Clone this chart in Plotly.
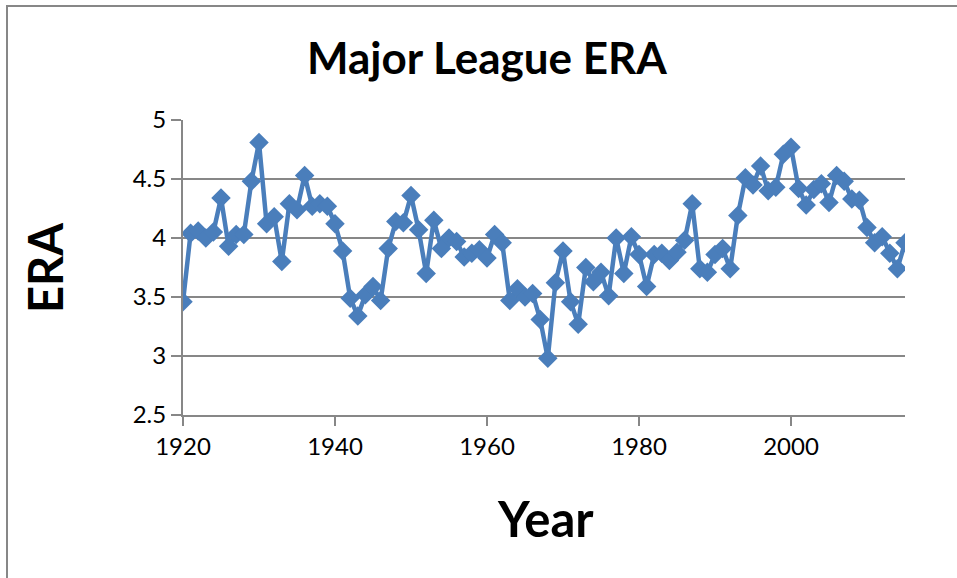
import plotly.graph_objects as go

years = list(range(1920, 2016))
era = [3.46, 4.04, 4.06, 4.00, 4.05, 4.34, 3.93, 4.03, 4.03, 4.48,
       4.81, 4.12, 4.18, 3.80, 4.29, 4.24, 4.53, 4.27, 4.29, 4.27,
       4.12, 3.89, 3.49, 3.34, 3.52, 3.59, 3.47, 3.91, 4.14, 4.13,
       4.36, 4.07, 3.70, 4.15, 3.91, 4.00, 3.97, 3.84, 3.87, 3.90,
       3.83, 4.03, 3.96, 3.47, 3.57, 3.50, 3.53, 3.31, 2.98, 3.62,
       3.89, 3.46, 3.27, 3.75, 3.63, 3.71, 3.51, 4.00, 3.70, 4.01,
       3.86, 3.59, 3.86, 3.87, 3.81, 3.88, 3.98, 4.29, 3.74, 3.71,
       3.86, 3.91, 3.74, 4.19, 4.51, 4.45, 4.61, 4.40, 4.43, 4.71,
       4.77, 4.42, 4.28, 4.41, 4.46, 4.30, 4.53, 4.48, 4.33, 4.32,
       4.09, 3.96, 4.01, 3.87, 3.74, 3.96]

x_ticks = [1920, 1940, 1960, 1980, 2000]
y_ticks = [2.5, 3, 3.5, 4, 4.5, 5]
y_tick_text = ["2.5", "3", "3.5", "4", "4.5", "5"]

blue = "#4A7EBB"
grid = "#878787"
font = "Lato"

fig = go.Figure()
fig.add_trace(go.Scatter(
    x=years, y=era, mode="lines+markers",
    line=dict(color=blue, width=4.5),
    marker=dict(symbol="diamond", size=15, color=blue),
    showlegend=False, hoverinfo="x+y"))

L, R, T, B = 183, 905, 120, 415
W, H = 957, 578
pw, ph = R - L, B - T

def px(x):
    return (x - L) / pw

def py(y):
    return (B - y) / ph

fig.update_layout(
    width=W, height=H,
    margin=dict(l=L, r=W - R, t=T, b=H - B, pad=0),
    paper_bgcolor="white", plot_bgcolor="white",
    font=dict(family=font, color="black"),
    xaxis=dict(range=[1920, 2015], tickvals=x_ticks, showgrid=False,
               zeroline=False, showline=True, linecolor=grid, linewidth=2,
               ticks="outside", ticklen=9, tickwidth=2, tickcolor=grid,
               tickfont=dict(size=24, family=font, color="black")),
    yaxis=dict(range=[2.5, 5], tickvals=y_ticks, ticktext=y_tick_text,
               showgrid=True, gridcolor=grid, gridwidth=2,
               zeroline=False, showline=True, linecolor=grid, linewidth=2,
               ticks="outside", ticklen=10, tickwidth=2, tickcolor=grid,
               tickfont=dict(size=24, family=font, color="black")),
    annotations=[
        dict(text="<b>Major League ERA</b>", x=px(487), y=py(57),
             xref="paper", yref="paper", showarrow=False,
             xanchor="center", yanchor="middle",
             font=dict(size=44, family=font, color="black")),
        dict(text="<b>Year</b>", x=px(545), y=py(518),
             xref="paper", yref="paper", showarrow=False,
             xanchor="center", yanchor="middle",
             font=dict(size=49, family=font, color="black")),
        dict(text="<b>ERA</b>", x=px(45), y=py(268), textangle=-90,
             xref="paper", yref="paper", showarrow=False,
             xanchor="center", yanchor="middle",
             font=dict(size=47, family=font, color="black")),
    ],
    shapes=[
        dict(type="rect", xref="paper", yref="paper", layer="above",
             x0=px(925), x1=px(W), y0=py(8), y1=py(H),
             line=dict(width=0), fillcolor="white"),
        dict(type="line", xref="paper", yref="paper",
             x0=px(6), x1=px(W), y0=py(6), y1=py(6),
             line=dict(color=grid, width=2)),
        dict(type="line", xref="paper", yref="paper",
             x0=px(7), x1=px(7), y0=py(5), y1=py(H),
             line=dict(color=grid, width=2)),
    ],
)

fig.write_html(
    "out.html", config={"displayModeBar": False},
    post_script=("document.body.style.margin='0px';"
                 "document.body.style.overflow='hidden';"
                 "document.documentElement.style.overflow='hidden';"))
